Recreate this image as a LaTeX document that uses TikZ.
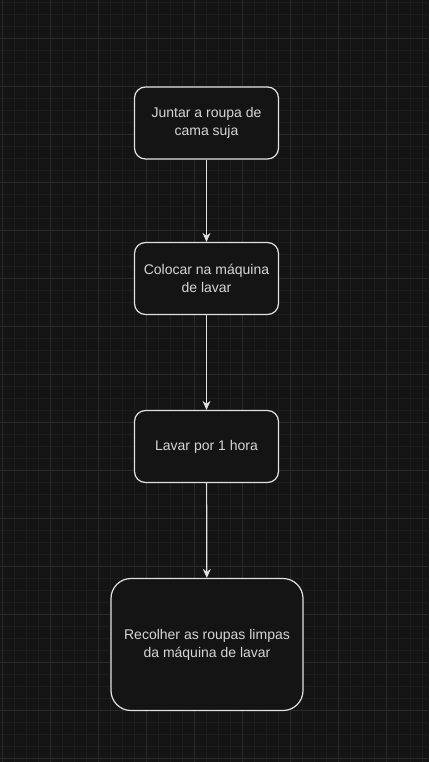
\documentclass[tikz,border=0pt]{standalone}
\usepackage{fontspec}
\setmainfont{Liberation Sans}
\usetikzlibrary{arrows.meta}
\definecolor{bgdark}{HTML}{141414}
\definecolor{gridminor}{HTML}{1D1D1D}
\definecolor{gridmajor}{HTML}{2A2A2A}
\definecolor{boxline}{HTML}{E2E2E2}
\definecolor{boxtext}{HTML}{D6D6D6}
\tikzset{
  stepbox/.style={draw=boxline,fill=bgdark,line width=1.2pt,rounded corners=11pt,
    minimum width=144pt,minimum height=72pt,align=center,text=boxtext,
    font=\fontsize{14}{18}\selectfont},
  bigbox/.style={stepbox,rounded corners=20pt,minimum width=192pt,minimum height=132pt},
  flow/.style={draw=boxline,line width=1.2pt,-{Stealth[length=9pt,width=8pt]}}
}
\begin{document}
\begin{tikzpicture}[x=1pt,y=-1pt]
 \fill[bgdark](0,0) rectangle (429,762);
 \useasboundingbox (0,0) rectangle (429,762);
 % grid
 \foreach \x in {2,14,...,428} \draw[gridminor,line width=0.8pt](\x,0)--(\x,762);
 \foreach \y in {2,14,...,761} \draw[gridminor,line width=0.8pt](0,\y)--(429,\y);
 \foreach \x in {2,50,...,428} \draw[gridmajor,line width=0.9pt](\x,0)--(\x,762);
 \foreach \y in {38,86,...,761} \draw[gridmajor,line width=0.9pt](0,\y)--(429,\y);
 % steps
 \node[stepbox](juntar) at (206.5,123) {Juntar a roupa de\\cama suja};
 \node[stepbox](colocar) at (206.5,278.5) {Colocar na máquina\\de lavar};
 \node[stepbox](lavar) at (206.5,446.5) {Lavar por 1 hora};
 \node[bigbox](recolher) at (207,644.5) {Recolher as roupas limpas\\da máquina de lavar};
 \draw[flow](juntar)--(colocar);
 \draw[flow](colocar)--(lavar);
 \draw[flow](lavar)--(recolher);
\end{tikzpicture}
\end{document}
